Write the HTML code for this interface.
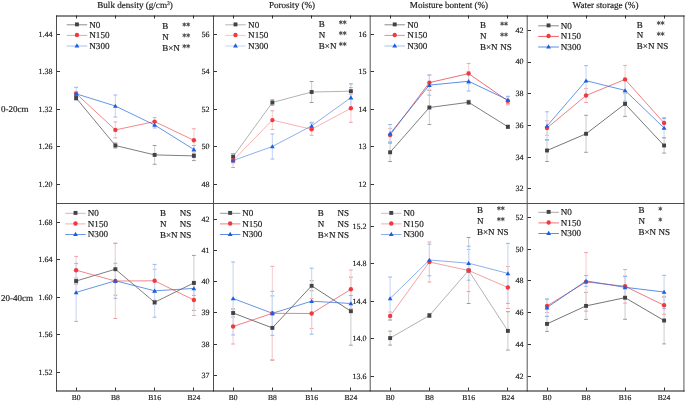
<!DOCTYPE html>
<html><head><meta charset="utf-8"><style>
html,body{margin:0;padding:0;background:#fff;}
body{width:685px;height:401px;overflow:hidden;}
svg{display:block;will-change:transform;}
text{stroke:#222;stroke-width:0.18px;text-rendering:geometricPrecision;}
</style></head><body>
<svg width="685" height="401" viewBox="0 0 685 401" font-family='"Liberation Serif", serif'>
<rect width="685" height="401" fill="#fff"/>
<text x="135.0" y="8.1" font-size="9.1" text-anchor="middle" fill="#222">Bulk density (g/cm<tspan font-size="5.5" dy="-3">3</tspan><tspan dy="3">)</tspan></text>
<text x="292.0" y="8.1" font-size="9.1" text-anchor="middle" fill="#222">Porosity (%)</text>
<text x="449.0" y="8.1" font-size="9.1" text-anchor="middle" fill="#222">Moisture bontent (%)</text>
<text x="605.5" y="8.1" font-size="9.1" text-anchor="middle" fill="#222">Water storage (%)</text>
<text x="1" y="111.8" font-size="9" fill="#222">0-20cm</text>
<text x="1" y="300.8" font-size="9" fill="#222">20-40cm</text>
<line x1="56.5" y1="34.50" x2="60.0" y2="34.50" stroke="#333" stroke-width="1"/>
<text x="52.5" y="36.60" font-size="8" text-anchor="end" fill="#222">1.44</text>
<line x1="56.5" y1="71.50" x2="60.0" y2="71.50" stroke="#333" stroke-width="1"/>
<text x="52.5" y="74.10" font-size="8" text-anchor="end" fill="#222">1.38</text>
<line x1="56.5" y1="109.50" x2="60.0" y2="109.50" stroke="#333" stroke-width="1"/>
<text x="52.5" y="111.60" font-size="8" text-anchor="end" fill="#222">1.32</text>
<line x1="56.5" y1="146.50" x2="60.0" y2="146.50" stroke="#333" stroke-width="1"/>
<text x="52.5" y="149.10" font-size="8" text-anchor="end" fill="#222">1.26</text>
<line x1="56.5" y1="184.50" x2="60.0" y2="184.50" stroke="#333" stroke-width="1"/>
<text x="52.5" y="186.60" font-size="8" text-anchor="end" fill="#222">1.20</text>
<line x1="76.50" y1="15.5" x2="76.50" y2="18.5" stroke="#333" stroke-width="1"/>
<line x1="115.50" y1="15.5" x2="115.50" y2="18.5" stroke="#333" stroke-width="1"/>
<line x1="154.50" y1="15.5" x2="154.50" y2="18.5" stroke="#333" stroke-width="1"/>
<line x1="193.50" y1="15.5" x2="193.50" y2="18.5" stroke="#333" stroke-width="1"/>
<path d="M76.12 96.50V99.50" stroke="#d4d4d4" stroke-width="1.2" fill="none"/>
<path d="M74.22 96.50H78.03M74.22 99.50H78.03" stroke="#9c9c9c" stroke-width="1" fill="none"/>
<path d="M115.38 143.00V148.00" stroke="#d4d4d4" stroke-width="1.2" fill="none"/>
<path d="M113.47 143.00H117.28M113.47 148.00H117.28" stroke="#9c9c9c" stroke-width="1" fill="none"/>
<path d="M154.62 145.50V164.30" stroke="#d4d4d4" stroke-width="1.2" fill="none"/>
<path d="M152.72 145.50H156.53M152.72 164.30H156.53" stroke="#9c9c9c" stroke-width="1" fill="none"/>
<path d="M193.88 151.20V160.60" stroke="#d4d4d4" stroke-width="1.2" fill="none"/>
<path d="M191.97 151.20H195.78M191.97 160.60H195.78" stroke="#9c9c9c" stroke-width="1" fill="none"/>
<path d="M76.12 91.60V95.60" stroke="#f8d4d6" stroke-width="1.2" fill="none"/>
<path d="M74.22 91.60H78.03M74.22 95.60H78.03" stroke="#f0a0a6" stroke-width="1" fill="none"/>
<path d="M115.38 121.90V137.90" stroke="#f8d4d6" stroke-width="1.2" fill="none"/>
<path d="M113.47 121.90H117.28M113.47 137.90H117.28" stroke="#f0a0a6" stroke-width="1" fill="none"/>
<path d="M154.62 117.60V125.60" stroke="#f8d4d6" stroke-width="1.2" fill="none"/>
<path d="M152.72 117.60H156.53M152.72 125.60H156.53" stroke="#f0a0a6" stroke-width="1" fill="none"/>
<path d="M193.88 128.80V151.80" stroke="#f8d4d6" stroke-width="1.2" fill="none"/>
<path d="M191.97 128.80H195.78M191.97 151.80H195.78" stroke="#f0a0a6" stroke-width="1" fill="none"/>
<path d="M76.12 87.30V100.30" stroke="#ccdcf4" stroke-width="1.2" fill="none"/>
<path d="M74.22 87.30H78.03M74.22 100.30H78.03" stroke="#94b6ea" stroke-width="1" fill="none"/>
<path d="M115.38 95.00V117.00" stroke="#ccdcf4" stroke-width="1.2" fill="none"/>
<path d="M113.47 95.00H117.28M113.47 117.00H117.28" stroke="#94b6ea" stroke-width="1" fill="none"/>
<path d="M154.62 122.00V128.00" stroke="#ccdcf4" stroke-width="1.2" fill="none"/>
<path d="M152.72 122.00H156.53M152.72 128.00H156.53" stroke="#94b6ea" stroke-width="1" fill="none"/>
<path d="M193.88 145.50V153.50" stroke="#ccdcf4" stroke-width="1.2" fill="none"/>
<path d="M191.97 145.50H195.78M191.97 153.50H195.78" stroke="#94b6ea" stroke-width="1" fill="none"/>
<path d="M76.12 98.00L115.38 145.50L154.62 154.90L193.88 155.90" stroke="#404040" stroke-opacity="0.75" stroke-width="0.9" fill="none"/>
<path d="M76.12 93.60L115.38 129.90L154.62 121.60L193.88 140.30" stroke="#e94048" stroke-opacity="0.7" stroke-width="0.9" fill="none"/>
<path d="M76.12 93.80L115.38 106.00L154.62 125.00L193.88 149.50" stroke="#2a6cdc" stroke-opacity="0.8" stroke-width="0.9" fill="none"/>
<rect x="74.17" y="96.05" width="3.9" height="3.9" fill="#434343"/>
<rect x="113.42" y="143.55" width="3.9" height="3.9" fill="#434343"/>
<rect x="152.68" y="152.95" width="3.9" height="3.9" fill="#434343"/>
<rect x="191.93" y="153.95" width="3.9" height="3.9" fill="#434343"/>
<circle cx="76.12" cy="93.60" r="2.2" fill="#ef3a40"/>
<circle cx="115.38" cy="129.90" r="2.2" fill="#ef3a40"/>
<circle cx="154.62" cy="121.60" r="2.2" fill="#ef3a40"/>
<circle cx="193.88" cy="140.30" r="2.2" fill="#ef3a40"/>
<path d="M76.12 91.55L78.53 95.64L73.72 95.64Z" fill="#1c5ee0"/>
<path d="M115.38 103.75L117.78 107.84L112.97 107.84Z" fill="#1c5ee0"/>
<path d="M154.62 122.75L157.03 126.84L152.22 126.84Z" fill="#1c5ee0"/>
<path d="M193.88 147.25L196.28 151.34L191.47 151.34Z" fill="#1c5ee0"/>
<line x1="66.7" y1="24.80" x2="87.2" y2="24.80" stroke="#8c8c8c" stroke-width="1"/>
<rect x="75.00" y="22.45" width="3.9" height="3.9" fill="#434343"/>
<text x="89.3" y="27.60" font-size="9.1" fill="#222">N0</text>
<line x1="66.7" y1="35.40" x2="87.2" y2="35.40" stroke="#f2a0a6" stroke-width="1"/>
<circle cx="76.95" cy="35.00" r="2.2" fill="#ef3a40"/>
<text x="89.3" y="38.20" font-size="9.1" fill="#222">N150</text>
<line x1="66.7" y1="46.00" x2="87.2" y2="46.00" stroke="#a6c2ee" stroke-width="1"/>
<path d="M76.95 43.34L79.35 47.44L74.55 47.44Z" fill="#1c5ee0"/>
<text x="89.3" y="48.80" font-size="9.1" fill="#222">N300</text>
<text x="162.2" y="29.00" font-size="9" fill="#222">B</text>
<circle cx="184.30" cy="24.50" r="1.15" fill="#444"/><path d="M184.30 24.50l0.00 1.75M184.30 24.50l-1.52 0.88M184.30 24.50l-1.52 -0.87M184.30 24.50l-0.00 -1.75M184.30 24.50l1.52 -0.88M184.30 24.50l1.52 0.88" stroke="#555" stroke-width="0.9" stroke-linecap="round"/>
<circle cx="188.20" cy="24.50" r="1.15" fill="#444"/><path d="M188.20 24.50l0.00 1.75M188.20 24.50l-1.52 0.88M188.20 24.50l-1.52 -0.87M188.20 24.50l-0.00 -1.75M188.20 24.50l1.52 -0.88M188.20 24.50l1.52 0.88" stroke="#555" stroke-width="0.9" stroke-linecap="round"/>
<text x="162.2" y="39.85" font-size="9" fill="#222">N</text>
<circle cx="184.30" cy="35.35" r="1.15" fill="#444"/><path d="M184.30 35.35l0.00 1.75M184.30 35.35l-1.52 0.88M184.30 35.35l-1.52 -0.87M184.30 35.35l-0.00 -1.75M184.30 35.35l1.52 -0.88M184.30 35.35l1.52 0.88" stroke="#555" stroke-width="0.9" stroke-linecap="round"/>
<circle cx="188.20" cy="35.35" r="1.15" fill="#444"/><path d="M188.20 35.35l0.00 1.75M188.20 35.35l-1.52 0.88M188.20 35.35l-1.52 -0.87M188.20 35.35l-0.00 -1.75M188.20 35.35l1.52 -0.88M188.20 35.35l1.52 0.88" stroke="#555" stroke-width="0.9" stroke-linecap="round"/>
<text x="162.2" y="50.70" font-size="9" fill="#222">B×N</text>
<circle cx="184.30" cy="46.20" r="1.15" fill="#444"/><path d="M184.30 46.20l0.00 1.75M184.30 46.20l-1.52 0.88M184.30 46.20l-1.52 -0.87M184.30 46.20l-0.00 -1.75M184.30 46.20l1.52 -0.88M184.30 46.20l1.52 0.88" stroke="#555" stroke-width="0.9" stroke-linecap="round"/>
<circle cx="188.20" cy="46.20" r="1.15" fill="#444"/><path d="M188.20 46.20l0.00 1.75M188.20 46.20l-1.52 0.88M188.20 46.20l-1.52 -0.87M188.20 46.20l-0.00 -1.75M188.20 46.20l1.52 -0.88M188.20 46.20l1.52 0.88" stroke="#555" stroke-width="0.9" stroke-linecap="round"/>
<line x1="213.5" y1="34.50" x2="217.0" y2="34.50" stroke="#333" stroke-width="1"/>
<text x="209.5" y="36.60" font-size="8" text-anchor="end" fill="#222">56</text>
<line x1="213.5" y1="71.50" x2="217.0" y2="71.50" stroke="#333" stroke-width="1"/>
<text x="209.5" y="74.10" font-size="8" text-anchor="end" fill="#222">54</text>
<line x1="213.5" y1="109.50" x2="217.0" y2="109.50" stroke="#333" stroke-width="1"/>
<text x="209.5" y="111.60" font-size="8" text-anchor="end" fill="#222">52</text>
<line x1="213.5" y1="146.50" x2="217.0" y2="146.50" stroke="#333" stroke-width="1"/>
<text x="209.5" y="149.10" font-size="8" text-anchor="end" fill="#222">50</text>
<line x1="213.5" y1="184.50" x2="217.0" y2="184.50" stroke="#333" stroke-width="1"/>
<text x="209.5" y="186.60" font-size="8" text-anchor="end" fill="#222">48</text>
<line x1="233.50" y1="15.5" x2="233.50" y2="18.5" stroke="#333" stroke-width="1"/>
<line x1="272.50" y1="15.5" x2="272.50" y2="18.5" stroke="#333" stroke-width="1"/>
<line x1="311.50" y1="15.5" x2="311.50" y2="18.5" stroke="#333" stroke-width="1"/>
<line x1="350.50" y1="15.5" x2="350.50" y2="18.5" stroke="#333" stroke-width="1"/>
<path d="M233.12 153.70V159.70" stroke="#d4d4d4" stroke-width="1.2" fill="none"/>
<path d="M231.22 153.70H235.03M231.22 159.70H235.03" stroke="#9c9c9c" stroke-width="1" fill="none"/>
<path d="M272.38 99.80V105.20" stroke="#d4d4d4" stroke-width="1.2" fill="none"/>
<path d="M270.48 99.80H274.27M270.48 105.20H274.27" stroke="#9c9c9c" stroke-width="1" fill="none"/>
<path d="M311.62 81.50V102.50" stroke="#d4d4d4" stroke-width="1.2" fill="none"/>
<path d="M309.73 81.50H313.52M309.73 102.50H313.52" stroke="#9c9c9c" stroke-width="1" fill="none"/>
<path d="M350.88 83.90V98.50" stroke="#d4d4d4" stroke-width="1.2" fill="none"/>
<path d="M348.98 83.90H352.77M348.98 98.50H352.77" stroke="#9c9c9c" stroke-width="1" fill="none"/>
<path d="M233.12 158.00V163.00" stroke="#f8d4d6" stroke-width="1.2" fill="none"/>
<path d="M231.22 158.00H235.03M231.22 163.00H235.03" stroke="#f0a0a6" stroke-width="1" fill="none"/>
<path d="M272.38 110.80V129.40" stroke="#f8d4d6" stroke-width="1.2" fill="none"/>
<path d="M270.48 110.80H274.27M270.48 129.40H274.27" stroke="#f0a0a6" stroke-width="1" fill="none"/>
<path d="M311.62 123.30V135.30" stroke="#f8d4d6" stroke-width="1.2" fill="none"/>
<path d="M309.73 123.30H313.52M309.73 135.30H313.52" stroke="#f0a0a6" stroke-width="1" fill="none"/>
<path d="M350.88 94.30V122.30" stroke="#f8d4d6" stroke-width="1.2" fill="none"/>
<path d="M348.98 94.30H352.77M348.98 122.30H352.77" stroke="#f0a0a6" stroke-width="1" fill="none"/>
<path d="M233.12 153.50V167.50" stroke="#ccdcf4" stroke-width="1.2" fill="none"/>
<path d="M231.22 153.50H235.03M231.22 167.50H235.03" stroke="#94b6ea" stroke-width="1" fill="none"/>
<path d="M272.38 134.00V159.00" stroke="#ccdcf4" stroke-width="1.2" fill="none"/>
<path d="M270.48 134.00H274.27M270.48 159.00H274.27" stroke="#94b6ea" stroke-width="1" fill="none"/>
<path d="M311.62 122.30V129.50" stroke="#ccdcf4" stroke-width="1.2" fill="none"/>
<path d="M309.73 122.30H313.52M309.73 129.50H313.52" stroke="#94b6ea" stroke-width="1" fill="none"/>
<path d="M350.88 87.60V107.60" stroke="#ccdcf4" stroke-width="1.2" fill="none"/>
<path d="M348.98 87.60H352.77M348.98 107.60H352.77" stroke="#94b6ea" stroke-width="1" fill="none"/>
<path d="M233.12 156.70L272.38 102.50L311.62 92.00L350.88 91.20" stroke="#404040" stroke-opacity="0.45" stroke-width="0.9" fill="none"/>
<path d="M233.12 160.50L272.38 120.10L311.62 129.30L350.88 108.30" stroke="#e94048" stroke-opacity="0.45" stroke-width="0.9" fill="none"/>
<path d="M233.12 160.50L272.38 146.50L311.62 125.90L350.88 97.60" stroke="#2a6cdc" stroke-opacity="0.6" stroke-width="0.9" fill="none"/>
<rect x="231.18" y="154.75" width="3.9" height="3.9" fill="#434343"/>
<rect x="270.43" y="100.55" width="3.9" height="3.9" fill="#434343"/>
<rect x="309.68" y="90.05" width="3.9" height="3.9" fill="#434343"/>
<rect x="348.93" y="89.25" width="3.9" height="3.9" fill="#434343"/>
<circle cx="233.12" cy="160.50" r="2.2" fill="#ef3a40"/>
<circle cx="272.38" cy="120.10" r="2.2" fill="#ef3a40"/>
<circle cx="311.62" cy="129.30" r="2.2" fill="#ef3a40"/>
<circle cx="350.88" cy="108.30" r="2.2" fill="#ef3a40"/>
<path d="M233.12 158.25L235.53 162.34L230.72 162.34Z" fill="#1c5ee0"/>
<path d="M272.38 144.25L274.77 148.34L269.98 148.34Z" fill="#1c5ee0"/>
<path d="M311.62 123.65L314.02 127.75L309.23 127.75Z" fill="#1c5ee0"/>
<path d="M350.88 95.34L353.27 99.44L348.48 99.44Z" fill="#1c5ee0"/>
<line x1="225.3" y1="24.80" x2="245.7" y2="24.80" stroke="#b4b4b4" stroke-width="1"/>
<rect x="233.55" y="22.45" width="3.9" height="3.9" fill="#434343"/>
<text x="248.1" y="27.60" font-size="9.1" fill="#222">N0</text>
<line x1="225.3" y1="35.40" x2="245.7" y2="35.40" stroke="#f6c4c8" stroke-width="1"/>
<circle cx="235.50" cy="35.00" r="2.2" fill="#ef3a40"/>
<text x="248.1" y="38.20" font-size="9.1" fill="#222">N150</text>
<line x1="225.3" y1="46.00" x2="245.7" y2="46.00" stroke="#c4d6f2" stroke-width="1"/>
<path d="M235.50 43.34L237.90 47.44L233.10 47.44Z" fill="#1c5ee0"/>
<text x="248.1" y="48.80" font-size="9.1" fill="#222">N300</text>
<text x="318.8" y="26.80" font-size="9" fill="#222">B</text>
<circle cx="340.80" cy="22.30" r="1.15" fill="#444"/><path d="M340.80 22.30l0.00 1.75M340.80 22.30l-1.52 0.88M340.80 22.30l-1.52 -0.87M340.80 22.30l-0.00 -1.75M340.80 22.30l1.52 -0.88M340.80 22.30l1.52 0.88" stroke="#555" stroke-width="0.9" stroke-linecap="round"/>
<circle cx="344.70" cy="22.30" r="1.15" fill="#444"/><path d="M344.70 22.30l0.00 1.75M344.70 22.30l-1.52 0.88M344.70 22.30l-1.52 -0.87M344.70 22.30l-0.00 -1.75M344.70 22.30l1.52 -0.88M344.70 22.30l1.52 0.88" stroke="#555" stroke-width="0.9" stroke-linecap="round"/>
<text x="318.8" y="37.65" font-size="9" fill="#222">N</text>
<circle cx="340.80" cy="33.15" r="1.15" fill="#444"/><path d="M340.80 33.15l0.00 1.75M340.80 33.15l-1.52 0.88M340.80 33.15l-1.52 -0.87M340.80 33.15l-0.00 -1.75M340.80 33.15l1.52 -0.88M340.80 33.15l1.52 0.88" stroke="#555" stroke-width="0.9" stroke-linecap="round"/>
<circle cx="344.70" cy="33.15" r="1.15" fill="#444"/><path d="M344.70 33.15l0.00 1.75M344.70 33.15l-1.52 0.88M344.70 33.15l-1.52 -0.87M344.70 33.15l-0.00 -1.75M344.70 33.15l1.52 -0.88M344.70 33.15l1.52 0.88" stroke="#555" stroke-width="0.9" stroke-linecap="round"/>
<text x="318.8" y="48.50" font-size="9" fill="#222">B×N</text>
<circle cx="340.80" cy="44.00" r="1.15" fill="#444"/><path d="M340.80 44.00l0.00 1.75M340.80 44.00l-1.52 0.88M340.80 44.00l-1.52 -0.87M340.80 44.00l-0.00 -1.75M340.80 44.00l1.52 -0.88M340.80 44.00l1.52 0.88" stroke="#555" stroke-width="0.9" stroke-linecap="round"/>
<circle cx="344.70" cy="44.00" r="1.15" fill="#444"/><path d="M344.70 44.00l0.00 1.75M344.70 44.00l-1.52 0.88M344.70 44.00l-1.52 -0.87M344.70 44.00l-0.00 -1.75M344.70 44.00l1.52 -0.88M344.70 44.00l1.52 0.88" stroke="#555" stroke-width="0.9" stroke-linecap="round"/>
<line x1="370.5" y1="34.50" x2="374.0" y2="34.50" stroke="#333" stroke-width="1"/>
<text x="366.5" y="36.60" font-size="8" text-anchor="end" fill="#222">16</text>
<line x1="370.5" y1="71.50" x2="374.0" y2="71.50" stroke="#333" stroke-width="1"/>
<text x="366.5" y="74.10" font-size="8" text-anchor="end" fill="#222">15</text>
<line x1="370.5" y1="109.50" x2="374.0" y2="109.50" stroke="#333" stroke-width="1"/>
<text x="366.5" y="111.60" font-size="8" text-anchor="end" fill="#222">14</text>
<line x1="370.5" y1="146.50" x2="374.0" y2="146.50" stroke="#333" stroke-width="1"/>
<text x="366.5" y="149.10" font-size="8" text-anchor="end" fill="#222">13</text>
<line x1="370.5" y1="184.50" x2="374.0" y2="184.50" stroke="#333" stroke-width="1"/>
<text x="366.5" y="186.60" font-size="8" text-anchor="end" fill="#222">12</text>
<line x1="390.50" y1="15.5" x2="390.50" y2="18.5" stroke="#333" stroke-width="1"/>
<line x1="429.50" y1="15.5" x2="429.50" y2="18.5" stroke="#333" stroke-width="1"/>
<line x1="468.50" y1="15.5" x2="468.50" y2="18.5" stroke="#333" stroke-width="1"/>
<line x1="507.50" y1="15.5" x2="507.50" y2="18.5" stroke="#333" stroke-width="1"/>
<path d="M390.12 143.10V161.50" stroke="#d4d4d4" stroke-width="1.2" fill="none"/>
<path d="M388.23 143.10H392.02M388.23 161.50H392.02" stroke="#9c9c9c" stroke-width="1" fill="none"/>
<path d="M429.38 90.50V124.50" stroke="#d4d4d4" stroke-width="1.2" fill="none"/>
<path d="M427.48 90.50H431.27M427.48 124.50H431.27" stroke="#9c9c9c" stroke-width="1" fill="none"/>
<path d="M468.62 100.30V104.30" stroke="#d4d4d4" stroke-width="1.2" fill="none"/>
<path d="M466.73 100.30H470.52M466.73 104.30H470.52" stroke="#9c9c9c" stroke-width="1" fill="none"/>
<path d="M507.88 125.30V128.30" stroke="#d4d4d4" stroke-width="1.2" fill="none"/>
<path d="M505.98 125.30H509.77M505.98 128.30H509.77" stroke="#9c9c9c" stroke-width="1" fill="none"/>
<path d="M390.12 128.40V141.60" stroke="#f8d4d6" stroke-width="1.2" fill="none"/>
<path d="M388.23 128.40H392.02M388.23 141.60H392.02" stroke="#f0a0a6" stroke-width="1" fill="none"/>
<path d="M429.38 75.10V90.10" stroke="#f8d4d6" stroke-width="1.2" fill="none"/>
<path d="M427.48 75.10H431.27M427.48 90.10H431.27" stroke="#f0a0a6" stroke-width="1" fill="none"/>
<path d="M468.62 63.40V83.80" stroke="#f8d4d6" stroke-width="1.2" fill="none"/>
<path d="M466.73 63.40H470.52M466.73 83.80H470.52" stroke="#f0a0a6" stroke-width="1" fill="none"/>
<path d="M507.88 96.90V104.90" stroke="#f8d4d6" stroke-width="1.2" fill="none"/>
<path d="M505.98 96.90H509.77M505.98 104.90H509.77" stroke="#f0a0a6" stroke-width="1" fill="none"/>
<path d="M390.12 124.50V142.70" stroke="#ccdcf4" stroke-width="1.2" fill="none"/>
<path d="M388.23 124.50H392.02M388.23 142.70H392.02" stroke="#94b6ea" stroke-width="1" fill="none"/>
<path d="M429.38 75.00V95.20" stroke="#ccdcf4" stroke-width="1.2" fill="none"/>
<path d="M427.48 75.00H431.27M427.48 95.20H431.27" stroke="#94b6ea" stroke-width="1" fill="none"/>
<path d="M468.62 71.60V91.00" stroke="#ccdcf4" stroke-width="1.2" fill="none"/>
<path d="M466.73 71.60H470.52M466.73 91.00H470.52" stroke="#94b6ea" stroke-width="1" fill="none"/>
<path d="M507.88 96.30V103.50" stroke="#ccdcf4" stroke-width="1.2" fill="none"/>
<path d="M505.98 96.30H509.77M505.98 103.50H509.77" stroke="#94b6ea" stroke-width="1" fill="none"/>
<path d="M390.12 152.30L429.38 107.50L468.62 102.30L507.88 126.80" stroke="#404040" stroke-opacity="0.75" stroke-width="0.9" fill="none"/>
<path d="M390.12 135.00L429.38 82.60L468.62 73.60L507.88 100.90" stroke="#e94048" stroke-opacity="0.85" stroke-width="0.9" fill="none"/>
<path d="M390.12 133.60L429.38 85.10L468.62 81.30L507.88 99.90" stroke="#2a6cdc" stroke-opacity="0.85" stroke-width="0.9" fill="none"/>
<rect x="388.18" y="150.35" width="3.9" height="3.9" fill="#434343"/>
<rect x="427.43" y="105.55" width="3.9" height="3.9" fill="#434343"/>
<rect x="466.68" y="100.35" width="3.9" height="3.9" fill="#434343"/>
<rect x="505.93" y="124.85" width="3.9" height="3.9" fill="#434343"/>
<circle cx="390.12" cy="135.00" r="2.2" fill="#ef3a40"/>
<circle cx="429.38" cy="82.60" r="2.2" fill="#ef3a40"/>
<circle cx="468.62" cy="73.60" r="2.2" fill="#ef3a40"/>
<circle cx="507.88" cy="100.90" r="2.2" fill="#ef3a40"/>
<path d="M390.12 131.34L392.52 135.44L387.73 135.44Z" fill="#1c5ee0"/>
<path d="M429.38 82.84L431.77 86.94L426.98 86.94Z" fill="#1c5ee0"/>
<path d="M468.62 79.05L471.02 83.14L466.23 83.14Z" fill="#1c5ee0"/>
<path d="M507.88 97.65L510.27 101.75L505.48 101.75Z" fill="#1c5ee0"/>
<line x1="384.5" y1="24.80" x2="404.9" y2="24.80" stroke="#8a8a8a" stroke-width="1"/>
<rect x="392.75" y="22.45" width="3.9" height="3.9" fill="#434343"/>
<text x="407.2" y="27.60" font-size="9.1" fill="#222">N0</text>
<line x1="384.5" y1="35.40" x2="404.9" y2="35.40" stroke="#f0888e" stroke-width="1"/>
<circle cx="394.70" cy="35.00" r="2.2" fill="#ef3a40"/>
<text x="407.2" y="38.20" font-size="9.1" fill="#222">N150</text>
<line x1="384.5" y1="46.00" x2="404.9" y2="46.00" stroke="#a4c0f0" stroke-width="1"/>
<path d="M394.70 43.34L397.10 47.44L392.30 47.44Z" fill="#1c5ee0"/>
<text x="407.2" y="48.80" font-size="9.1" fill="#222">N300</text>
<text x="480.0" y="28.20" font-size="9" fill="#222">B</text>
<circle cx="502.10" cy="23.70" r="1.15" fill="#444"/><path d="M502.10 23.70l0.00 1.75M502.10 23.70l-1.52 0.88M502.10 23.70l-1.52 -0.87M502.10 23.70l-0.00 -1.75M502.10 23.70l1.52 -0.88M502.10 23.70l1.52 0.88" stroke="#555" stroke-width="0.9" stroke-linecap="round"/>
<circle cx="506.00" cy="23.70" r="1.15" fill="#444"/><path d="M506.00 23.70l0.00 1.75M506.00 23.70l-1.52 0.88M506.00 23.70l-1.52 -0.87M506.00 23.70l-0.00 -1.75M506.00 23.70l1.52 -0.88M506.00 23.70l1.52 0.88" stroke="#555" stroke-width="0.9" stroke-linecap="round"/>
<text x="480.0" y="39.05" font-size="9" fill="#222">N</text>
<circle cx="502.10" cy="34.55" r="1.15" fill="#444"/><path d="M502.10 34.55l0.00 1.75M502.10 34.55l-1.52 0.88M502.10 34.55l-1.52 -0.87M502.10 34.55l-0.00 -1.75M502.10 34.55l1.52 -0.88M502.10 34.55l1.52 0.88" stroke="#555" stroke-width="0.9" stroke-linecap="round"/>
<circle cx="506.00" cy="34.55" r="1.15" fill="#444"/><path d="M506.00 34.55l0.00 1.75M506.00 34.55l-1.52 0.88M506.00 34.55l-1.52 -0.87M506.00 34.55l-0.00 -1.75M506.00 34.55l1.52 -0.88M506.00 34.55l1.52 0.88" stroke="#555" stroke-width="0.9" stroke-linecap="round"/>
<text x="480.0" y="49.90" font-size="9" fill="#222">B×N</text>
<text x="500.2" y="49.90" font-size="9" fill="#222">NS</text>
<line x1="527.5" y1="30.50" x2="531.0" y2="30.50" stroke="#333" stroke-width="1"/>
<text x="523.5" y="32.70" font-size="8" text-anchor="end" fill="#222">42</text>
<line x1="527.5" y1="62.50" x2="531.0" y2="62.50" stroke="#333" stroke-width="1"/>
<text x="523.5" y="64.40" font-size="8" text-anchor="end" fill="#222">40</text>
<line x1="527.5" y1="93.50" x2="531.0" y2="93.50" stroke="#333" stroke-width="1"/>
<text x="523.5" y="96.10" font-size="8" text-anchor="end" fill="#222">38</text>
<line x1="527.5" y1="125.50" x2="531.0" y2="125.50" stroke="#333" stroke-width="1"/>
<text x="523.5" y="127.80" font-size="8" text-anchor="end" fill="#222">36</text>
<line x1="527.5" y1="157.50" x2="531.0" y2="157.50" stroke="#333" stroke-width="1"/>
<text x="523.5" y="159.50" font-size="8" text-anchor="end" fill="#222">34</text>
<line x1="527.5" y1="188.50" x2="531.0" y2="188.50" stroke="#333" stroke-width="1"/>
<text x="523.5" y="191.20" font-size="8" text-anchor="end" fill="#222">32</text>
<line x1="547.50" y1="15.5" x2="547.50" y2="18.5" stroke="#333" stroke-width="1"/>
<line x1="586.50" y1="15.5" x2="586.50" y2="18.5" stroke="#333" stroke-width="1"/>
<line x1="625.50" y1="15.5" x2="625.50" y2="18.5" stroke="#333" stroke-width="1"/>
<line x1="664.50" y1="15.5" x2="664.50" y2="18.5" stroke="#333" stroke-width="1"/>
<path d="M547.01 139.50V161.50" stroke="#d4d4d4" stroke-width="1.2" fill="none"/>
<path d="M545.11 139.50H548.91M545.11 161.50H548.91" stroke="#9c9c9c" stroke-width="1" fill="none"/>
<path d="M586.04 115.30V152.30" stroke="#d4d4d4" stroke-width="1.2" fill="none"/>
<path d="M584.14 115.30H587.94M584.14 152.30H587.94" stroke="#9c9c9c" stroke-width="1" fill="none"/>
<path d="M625.06 91.40V116.40" stroke="#d4d4d4" stroke-width="1.2" fill="none"/>
<path d="M623.16 91.40H626.96M623.16 116.40H626.96" stroke="#9c9c9c" stroke-width="1" fill="none"/>
<path d="M664.09 137.90V153.10" stroke="#d4d4d4" stroke-width="1.2" fill="none"/>
<path d="M662.19 137.90H665.99M662.19 153.10H665.99" stroke="#9c9c9c" stroke-width="1" fill="none"/>
<path d="M547.01 120.70V135.30" stroke="#f8d4d6" stroke-width="1.2" fill="none"/>
<path d="M545.11 120.70H548.91M545.11 135.30H548.91" stroke="#f0a0a6" stroke-width="1" fill="none"/>
<path d="M586.04 88.50V102.50" stroke="#f8d4d6" stroke-width="1.2" fill="none"/>
<path d="M584.14 88.50H587.94M584.14 102.50H587.94" stroke="#f0a0a6" stroke-width="1" fill="none"/>
<path d="M625.06 65.40V93.40" stroke="#f8d4d6" stroke-width="1.2" fill="none"/>
<path d="M623.16 65.40H626.96M623.16 93.40H626.96" stroke="#f0a0a6" stroke-width="1" fill="none"/>
<path d="M664.09 117.60V128.40" stroke="#f8d4d6" stroke-width="1.2" fill="none"/>
<path d="M662.19 117.60H665.99M662.19 128.40H665.99" stroke="#f0a0a6" stroke-width="1" fill="none"/>
<path d="M547.01 111.80V140.20" stroke="#ccdcf4" stroke-width="1.2" fill="none"/>
<path d="M545.11 111.80H548.91M545.11 140.20H548.91" stroke="#94b6ea" stroke-width="1" fill="none"/>
<path d="M586.04 65.70V95.70" stroke="#ccdcf4" stroke-width="1.2" fill="none"/>
<path d="M584.14 65.70H587.94M584.14 95.70H587.94" stroke="#94b6ea" stroke-width="1" fill="none"/>
<path d="M625.06 79.60V101.20" stroke="#ccdcf4" stroke-width="1.2" fill="none"/>
<path d="M623.16 79.60H626.96M623.16 101.20H626.96" stroke="#94b6ea" stroke-width="1" fill="none"/>
<path d="M664.09 118.50V137.50" stroke="#ccdcf4" stroke-width="1.2" fill="none"/>
<path d="M662.19 118.50H665.99M662.19 137.50H665.99" stroke="#94b6ea" stroke-width="1" fill="none"/>
<path d="M547.01 150.50L586.04 133.80L625.06 103.90L664.09 145.50" stroke="#404040" stroke-opacity="0.8" stroke-width="0.9" fill="none"/>
<path d="M547.01 128.00L586.04 95.50L625.06 79.40L664.09 123.00" stroke="#e94048" stroke-opacity="0.75" stroke-width="0.9" fill="none"/>
<path d="M547.01 126.00L586.04 80.70L625.06 90.40L664.09 128.00" stroke="#2a6cdc" stroke-opacity="0.8" stroke-width="0.9" fill="none"/>
<rect x="545.06" y="148.55" width="3.9" height="3.9" fill="#434343"/>
<rect x="584.09" y="131.85" width="3.9" height="3.9" fill="#434343"/>
<rect x="623.11" y="101.95" width="3.9" height="3.9" fill="#434343"/>
<rect x="662.14" y="143.55" width="3.9" height="3.9" fill="#434343"/>
<circle cx="547.01" cy="128.00" r="2.2" fill="#ef3a40"/>
<circle cx="586.04" cy="95.50" r="2.2" fill="#ef3a40"/>
<circle cx="625.06" cy="79.40" r="2.2" fill="#ef3a40"/>
<circle cx="664.09" cy="123.00" r="2.2" fill="#ef3a40"/>
<path d="M547.01 123.75L549.41 127.84L544.61 127.84Z" fill="#1c5ee0"/>
<path d="M586.04 78.45L588.44 82.55L583.64 82.55Z" fill="#1c5ee0"/>
<path d="M625.06 88.15L627.46 92.25L622.66 92.25Z" fill="#1c5ee0"/>
<path d="M664.09 125.75L666.49 129.84L661.69 129.84Z" fill="#1c5ee0"/>
<line x1="538.2" y1="25.80" x2="558.9" y2="25.80" stroke="#8a8a8a" stroke-width="1"/>
<rect x="546.60" y="23.45" width="3.9" height="3.9" fill="#434343"/>
<text x="560.8" y="28.60" font-size="9.1" fill="#222">N0</text>
<line x1="538.2" y1="36.40" x2="558.9" y2="36.40" stroke="#ee6068" stroke-width="1"/>
<circle cx="548.55" cy="36.00" r="2.2" fill="#ef3a40"/>
<text x="560.8" y="39.20" font-size="9.1" fill="#222">N150</text>
<line x1="538.2" y1="47.00" x2="558.9" y2="47.00" stroke="#5a8ee2" stroke-width="1"/>
<path d="M548.55 44.34L550.95 48.44L546.15 48.44Z" fill="#1c5ee0"/>
<text x="560.8" y="49.80" font-size="9.1" fill="#222">N300</text>
<text x="636.8" y="27.50" font-size="9" fill="#222">B</text>
<circle cx="658.70" cy="23.00" r="1.15" fill="#444"/><path d="M658.70 23.00l0.00 1.75M658.70 23.00l-1.52 0.88M658.70 23.00l-1.52 -0.87M658.70 23.00l-0.00 -1.75M658.70 23.00l1.52 -0.88M658.70 23.00l1.52 0.88" stroke="#555" stroke-width="0.9" stroke-linecap="round"/>
<circle cx="662.60" cy="23.00" r="1.15" fill="#444"/><path d="M662.60 23.00l0.00 1.75M662.60 23.00l-1.52 0.88M662.60 23.00l-1.52 -0.87M662.60 23.00l-0.00 -1.75M662.60 23.00l1.52 -0.88M662.60 23.00l1.52 0.88" stroke="#555" stroke-width="0.9" stroke-linecap="round"/>
<text x="636.8" y="38.35" font-size="9" fill="#222">N</text>
<circle cx="658.70" cy="33.85" r="1.15" fill="#444"/><path d="M658.70 33.85l0.00 1.75M658.70 33.85l-1.52 0.88M658.70 33.85l-1.52 -0.87M658.70 33.85l-0.00 -1.75M658.70 33.85l1.52 -0.88M658.70 33.85l1.52 0.88" stroke="#555" stroke-width="0.9" stroke-linecap="round"/>
<circle cx="662.60" cy="33.85" r="1.15" fill="#444"/><path d="M662.60 33.85l0.00 1.75M662.60 33.85l-1.52 0.88M662.60 33.85l-1.52 -0.87M662.60 33.85l-0.00 -1.75M662.60 33.85l1.52 -0.88M662.60 33.85l1.52 0.88" stroke="#555" stroke-width="0.9" stroke-linecap="round"/>
<text x="636.8" y="49.20" font-size="9" fill="#222">B×N</text>
<text x="656.8" y="49.20" font-size="9" fill="#222">NS</text>
<line x1="56.5" y1="222.50" x2="60.0" y2="222.50" stroke="#333" stroke-width="1"/>
<text x="52.5" y="224.50" font-size="8" text-anchor="end" fill="#222">1.68</text>
<line x1="56.5" y1="259.50" x2="60.0" y2="259.50" stroke="#333" stroke-width="1"/>
<text x="52.5" y="262.00" font-size="8" text-anchor="end" fill="#222">1.64</text>
<line x1="56.5" y1="297.50" x2="60.0" y2="297.50" stroke="#333" stroke-width="1"/>
<text x="52.5" y="299.50" font-size="8" text-anchor="end" fill="#222">1.60</text>
<line x1="56.5" y1="334.50" x2="60.0" y2="334.50" stroke="#333" stroke-width="1"/>
<text x="52.5" y="337.00" font-size="8" text-anchor="end" fill="#222">1.56</text>
<line x1="56.5" y1="372.50" x2="60.0" y2="372.50" stroke="#333" stroke-width="1"/>
<text x="52.5" y="374.50" font-size="8" text-anchor="end" fill="#222">1.52</text>
<line x1="76.50" y1="390.5" x2="76.50" y2="387.5" stroke="#333" stroke-width="1"/>
<text x="76.12" y="399.6" font-size="7.6" text-anchor="middle" fill="#222">B0</text>
<line x1="115.50" y1="390.5" x2="115.50" y2="387.5" stroke="#333" stroke-width="1"/>
<text x="115.38" y="399.6" font-size="7.6" text-anchor="middle" fill="#222">B8</text>
<line x1="154.50" y1="390.5" x2="154.50" y2="387.5" stroke="#333" stroke-width="1"/>
<text x="154.62" y="399.6" font-size="7.6" text-anchor="middle" fill="#222">B16</text>
<line x1="193.50" y1="390.5" x2="193.50" y2="387.5" stroke="#333" stroke-width="1"/>
<text x="193.88" y="399.6" font-size="7.6" text-anchor="middle" fill="#222">B24</text>
<path d="M76.12 278.00V284.00" stroke="#d4d4d4" stroke-width="1.2" fill="none"/>
<path d="M74.22 278.00H78.03M74.22 284.00H78.03" stroke="#9c9c9c" stroke-width="1" fill="none"/>
<path d="M115.38 243.20V295.20" stroke="#d4d4d4" stroke-width="1.2" fill="none"/>
<path d="M113.47 243.20H117.28M113.47 295.20H117.28" stroke="#9c9c9c" stroke-width="1" fill="none"/>
<path d="M154.62 300.30V304.30" stroke="#d4d4d4" stroke-width="1.2" fill="none"/>
<path d="M152.72 300.30H156.53M152.72 304.30H156.53" stroke="#9c9c9c" stroke-width="1" fill="none"/>
<path d="M193.88 255.40V310.40" stroke="#d4d4d4" stroke-width="1.2" fill="none"/>
<path d="M191.97 255.40H195.78M191.97 310.40H195.78" stroke="#9c9c9c" stroke-width="1" fill="none"/>
<path d="M76.12 256.40V284.00" stroke="#f8d4d6" stroke-width="1.2" fill="none"/>
<path d="M74.22 256.40H78.03M74.22 284.00H78.03" stroke="#f0a0a6" stroke-width="1" fill="none"/>
<path d="M115.38 243.50V318.50" stroke="#f8d4d6" stroke-width="1.2" fill="none"/>
<path d="M113.47 243.50H117.28M113.47 318.50H117.28" stroke="#f0a0a6" stroke-width="1" fill="none"/>
<path d="M154.62 269.30V292.30" stroke="#f8d4d6" stroke-width="1.2" fill="none"/>
<path d="M152.72 269.30H156.53M152.72 292.30H156.53" stroke="#f0a0a6" stroke-width="1" fill="none"/>
<path d="M193.88 284.50V315.50" stroke="#f8d4d6" stroke-width="1.2" fill="none"/>
<path d="M191.97 284.50H195.78M191.97 315.50H195.78" stroke="#f0a0a6" stroke-width="1" fill="none"/>
<path d="M76.12 263.40V321.40" stroke="#ccdcf4" stroke-width="1.2" fill="none"/>
<path d="M74.22 263.40H78.03M74.22 321.40H78.03" stroke="#94b6ea" stroke-width="1" fill="none"/>
<path d="M115.38 263.30V298.30" stroke="#ccdcf4" stroke-width="1.2" fill="none"/>
<path d="M113.47 263.30H117.28M113.47 298.30H117.28" stroke="#94b6ea" stroke-width="1" fill="none"/>
<path d="M154.62 264.40V317.20" stroke="#ccdcf4" stroke-width="1.2" fill="none"/>
<path d="M152.72 264.40H156.53M152.72 317.20H156.53" stroke="#94b6ea" stroke-width="1" fill="none"/>
<path d="M193.88 281.40V295.40" stroke="#ccdcf4" stroke-width="1.2" fill="none"/>
<path d="M191.97 281.40H195.78M191.97 295.40H195.78" stroke="#94b6ea" stroke-width="1" fill="none"/>
<path d="M76.12 281.00L115.38 269.20L154.62 302.30L193.88 282.90" stroke="#404040" stroke-opacity="0.75" stroke-width="0.9" fill="none"/>
<path d="M76.12 270.20L115.38 281.00L154.62 280.80L193.88 300.00" stroke="#e94048" stroke-opacity="0.7" stroke-width="0.9" fill="none"/>
<path d="M76.12 292.40L115.38 280.80L154.62 290.80L193.88 288.40" stroke="#2a6cdc" stroke-opacity="0.8" stroke-width="0.9" fill="none"/>
<rect x="74.17" y="279.05" width="3.9" height="3.9" fill="#434343"/>
<rect x="113.42" y="267.25" width="3.9" height="3.9" fill="#434343"/>
<rect x="152.68" y="300.35" width="3.9" height="3.9" fill="#434343"/>
<rect x="191.93" y="280.95" width="3.9" height="3.9" fill="#434343"/>
<circle cx="76.12" cy="270.20" r="2.2" fill="#ef3a40"/>
<circle cx="115.38" cy="281.00" r="2.2" fill="#ef3a40"/>
<circle cx="154.62" cy="280.80" r="2.2" fill="#ef3a40"/>
<circle cx="193.88" cy="300.00" r="2.2" fill="#ef3a40"/>
<path d="M76.12 290.14L78.53 294.25L73.72 294.25Z" fill="#1c5ee0"/>
<path d="M115.38 278.55L117.78 282.65L112.97 282.65Z" fill="#1c5ee0"/>
<path d="M154.62 288.55L157.03 292.65L152.22 292.65Z" fill="#1c5ee0"/>
<path d="M193.88 286.14L196.28 290.25L191.47 290.25Z" fill="#1c5ee0"/>
<line x1="65.2" y1="213.30" x2="85.8" y2="213.30" stroke="#c0c0c0" stroke-width="1"/>
<rect x="73.55" y="210.95" width="3.9" height="3.9" fill="#434343"/>
<text x="87.8" y="216.10" font-size="9.1" fill="#222">N0</text>
<line x1="65.2" y1="223.90" x2="85.8" y2="223.90" stroke="#f4b0b6" stroke-width="1"/>
<circle cx="75.50" cy="223.50" r="2.2" fill="#ef3a40"/>
<text x="87.8" y="226.70" font-size="9.1" fill="#222">N150</text>
<line x1="65.2" y1="234.50" x2="85.8" y2="234.50" stroke="#6a9ae2" stroke-width="1"/>
<path d="M75.50 231.84L77.90 235.94L73.10 235.94Z" fill="#1c5ee0"/>
<text x="87.8" y="237.30" font-size="9.1" fill="#222">N300</text>
<text x="160.0" y="216.20" font-size="9" fill="#222">B</text>
<text x="179.8" y="216.20" font-size="9" fill="#222">NS</text>
<text x="160.0" y="227.05" font-size="9" fill="#222">N</text>
<text x="179.8" y="227.05" font-size="9" fill="#222">NS</text>
<text x="160.0" y="237.90" font-size="9" fill="#222">B×N</text>
<text x="179.8" y="237.90" font-size="9" fill="#222">NS</text>
<line x1="213.5" y1="219.50" x2="217.0" y2="219.50" stroke="#333" stroke-width="1"/>
<text x="209.5" y="221.50" font-size="8" text-anchor="end" fill="#222">42</text>
<line x1="213.5" y1="250.50" x2="217.0" y2="250.50" stroke="#333" stroke-width="1"/>
<text x="209.5" y="252.78" font-size="8" text-anchor="end" fill="#222">41</text>
<line x1="213.5" y1="281.50" x2="217.0" y2="281.50" stroke="#333" stroke-width="1"/>
<text x="209.5" y="284.06" font-size="8" text-anchor="end" fill="#222">40</text>
<line x1="213.5" y1="312.50" x2="217.0" y2="312.50" stroke="#333" stroke-width="1"/>
<text x="209.5" y="315.34" font-size="8" text-anchor="end" fill="#222">39</text>
<line x1="213.5" y1="344.50" x2="217.0" y2="344.50" stroke="#333" stroke-width="1"/>
<text x="209.5" y="346.62" font-size="8" text-anchor="end" fill="#222">38</text>
<line x1="213.5" y1="375.50" x2="217.0" y2="375.50" stroke="#333" stroke-width="1"/>
<text x="209.5" y="377.90" font-size="8" text-anchor="end" fill="#222">37</text>
<line x1="233.50" y1="390.5" x2="233.50" y2="387.5" stroke="#333" stroke-width="1"/>
<text x="233.12" y="399.6" font-size="7.6" text-anchor="middle" fill="#222">B0</text>
<line x1="272.50" y1="390.5" x2="272.50" y2="387.5" stroke="#333" stroke-width="1"/>
<text x="272.38" y="399.6" font-size="7.6" text-anchor="middle" fill="#222">B8</text>
<line x1="311.50" y1="390.5" x2="311.50" y2="387.5" stroke="#333" stroke-width="1"/>
<text x="311.62" y="399.6" font-size="7.6" text-anchor="middle" fill="#222">B16</text>
<line x1="350.50" y1="390.5" x2="350.50" y2="387.5" stroke="#333" stroke-width="1"/>
<text x="350.88" y="399.6" font-size="7.6" text-anchor="middle" fill="#222">B24</text>
<path d="M233.12 309.00V317.00" stroke="#d4d4d4" stroke-width="1.2" fill="none"/>
<path d="M231.22 309.00H235.03M231.22 317.00H235.03" stroke="#9c9c9c" stroke-width="1" fill="none"/>
<path d="M272.38 295.90V359.90" stroke="#d4d4d4" stroke-width="1.2" fill="none"/>
<path d="M270.48 295.90H274.27M270.48 359.90H274.27" stroke="#9c9c9c" stroke-width="1" fill="none"/>
<path d="M311.62 280.80V290.80" stroke="#d4d4d4" stroke-width="1.2" fill="none"/>
<path d="M309.73 280.80H313.52M309.73 290.80H313.52" stroke="#9c9c9c" stroke-width="1" fill="none"/>
<path d="M350.88 277.20V345.20" stroke="#d4d4d4" stroke-width="1.2" fill="none"/>
<path d="M348.98 277.20H352.77M348.98 345.20H352.77" stroke="#9c9c9c" stroke-width="1" fill="none"/>
<path d="M233.12 309.00V344.00" stroke="#f8d4d6" stroke-width="1.2" fill="none"/>
<path d="M231.22 309.00H235.03M231.22 344.00H235.03" stroke="#f0a0a6" stroke-width="1" fill="none"/>
<path d="M272.38 266.30V360.30" stroke="#f8d4d6" stroke-width="1.2" fill="none"/>
<path d="M270.48 266.30H274.27M270.48 360.30H274.27" stroke="#f0a0a6" stroke-width="1" fill="none"/>
<path d="M311.62 298.50V328.50" stroke="#f8d4d6" stroke-width="1.2" fill="none"/>
<path d="M309.73 298.50H313.52M309.73 328.50H313.52" stroke="#f0a0a6" stroke-width="1" fill="none"/>
<path d="M350.88 270.00V308.60" stroke="#f8d4d6" stroke-width="1.2" fill="none"/>
<path d="M348.98 270.00H352.77M348.98 308.60H352.77" stroke="#f0a0a6" stroke-width="1" fill="none"/>
<path d="M233.12 262.00V335.00" stroke="#ccdcf4" stroke-width="1.2" fill="none"/>
<path d="M231.22 262.00H235.03M231.22 335.00H235.03" stroke="#94b6ea" stroke-width="1" fill="none"/>
<path d="M272.38 291.30V335.30" stroke="#ccdcf4" stroke-width="1.2" fill="none"/>
<path d="M270.48 291.30H274.27M270.48 335.30H274.27" stroke="#94b6ea" stroke-width="1" fill="none"/>
<path d="M311.62 268.20V334.20" stroke="#ccdcf4" stroke-width="1.2" fill="none"/>
<path d="M309.73 268.20H313.52M309.73 334.20H313.52" stroke="#94b6ea" stroke-width="1" fill="none"/>
<path d="M350.88 295.50V311.50" stroke="#ccdcf4" stroke-width="1.2" fill="none"/>
<path d="M348.98 295.50H352.77M348.98 311.50H352.77" stroke="#94b6ea" stroke-width="1" fill="none"/>
<path d="M233.12 313.00L272.38 327.90L311.62 285.80L350.88 311.20" stroke="#404040" stroke-opacity="0.8" stroke-width="0.9" fill="none"/>
<path d="M233.12 326.50L272.38 313.30L311.62 313.50L350.88 289.30" stroke="#e94048" stroke-opacity="0.75" stroke-width="0.9" fill="none"/>
<path d="M233.12 298.50L272.38 313.30L311.62 301.20L350.88 303.50" stroke="#2a6cdc" stroke-opacity="0.8" stroke-width="0.9" fill="none"/>
<rect x="231.18" y="311.05" width="3.9" height="3.9" fill="#434343"/>
<rect x="270.43" y="325.95" width="3.9" height="3.9" fill="#434343"/>
<rect x="309.68" y="283.85" width="3.9" height="3.9" fill="#434343"/>
<rect x="348.93" y="309.25" width="3.9" height="3.9" fill="#434343"/>
<circle cx="233.12" cy="326.50" r="2.2" fill="#ef3a40"/>
<circle cx="272.38" cy="313.30" r="2.2" fill="#ef3a40"/>
<circle cx="311.62" cy="313.50" r="2.2" fill="#ef3a40"/>
<circle cx="350.88" cy="289.30" r="2.2" fill="#ef3a40"/>
<path d="M233.12 296.25L235.53 300.35L230.72 300.35Z" fill="#1c5ee0"/>
<path d="M272.38 311.05L274.77 315.15L269.98 315.15Z" fill="#1c5ee0"/>
<path d="M311.62 298.94L314.02 303.05L309.23 303.05Z" fill="#1c5ee0"/>
<path d="M350.88 301.25L353.27 305.35L348.48 305.35Z" fill="#1c5ee0"/>
<line x1="219.9" y1="213.30" x2="240.4" y2="213.30" stroke="#999999" stroke-width="1"/>
<rect x="228.20" y="210.95" width="3.9" height="3.9" fill="#434343"/>
<text x="242.2" y="216.10" font-size="9.1" fill="#222">N0</text>
<line x1="219.9" y1="223.90" x2="240.4" y2="223.90" stroke="#f08088" stroke-width="1"/>
<circle cx="230.15" cy="223.50" r="2.2" fill="#ef3a40"/>
<text x="242.2" y="226.70" font-size="9.1" fill="#222">N150</text>
<line x1="219.9" y1="234.50" x2="240.4" y2="234.50" stroke="#5a8ee2" stroke-width="1"/>
<path d="M230.15 231.84L232.55 235.94L227.75 235.94Z" fill="#1c5ee0"/>
<text x="242.2" y="237.30" font-size="9.1" fill="#222">N300</text>
<text x="317.8" y="215.80" font-size="9" fill="#222">B</text>
<text x="337.5" y="215.80" font-size="9" fill="#222">NS</text>
<text x="317.8" y="226.65" font-size="9" fill="#222">N</text>
<text x="337.5" y="226.65" font-size="9" fill="#222">NS</text>
<text x="317.8" y="237.50" font-size="9" fill="#222">B×N</text>
<text x="337.5" y="237.50" font-size="9" fill="#222">NS</text>
<line x1="370.5" y1="226.50" x2="374.0" y2="226.50" stroke="#333" stroke-width="1"/>
<text x="366.5" y="228.80" font-size="8" text-anchor="end" fill="#222">15.2</text>
<line x1="370.5" y1="263.50" x2="374.0" y2="263.50" stroke="#333" stroke-width="1"/>
<text x="366.5" y="266.30" font-size="8" text-anchor="end" fill="#222">14.8</text>
<line x1="370.5" y1="301.50" x2="374.0" y2="301.50" stroke="#333" stroke-width="1"/>
<text x="366.5" y="303.80" font-size="8" text-anchor="end" fill="#222">14.4</text>
<line x1="370.5" y1="338.50" x2="374.0" y2="338.50" stroke="#333" stroke-width="1"/>
<text x="366.5" y="341.30" font-size="8" text-anchor="end" fill="#222">14.0</text>
<line x1="370.5" y1="376.50" x2="374.0" y2="376.50" stroke="#333" stroke-width="1"/>
<text x="366.5" y="378.80" font-size="8" text-anchor="end" fill="#222">13.6</text>
<line x1="390.50" y1="390.5" x2="390.50" y2="387.5" stroke="#333" stroke-width="1"/>
<text x="390.12" y="399.6" font-size="7.6" text-anchor="middle" fill="#222">B0</text>
<line x1="429.50" y1="390.5" x2="429.50" y2="387.5" stroke="#333" stroke-width="1"/>
<text x="429.38" y="399.6" font-size="7.6" text-anchor="middle" fill="#222">B8</text>
<line x1="468.50" y1="390.5" x2="468.50" y2="387.5" stroke="#333" stroke-width="1"/>
<text x="468.62" y="399.6" font-size="7.6" text-anchor="middle" fill="#222">B16</text>
<line x1="507.50" y1="390.5" x2="507.50" y2="387.5" stroke="#333" stroke-width="1"/>
<text x="507.88" y="399.6" font-size="7.6" text-anchor="middle" fill="#222">B24</text>
<path d="M390.12 331.10V345.10" stroke="#d4d4d4" stroke-width="1.2" fill="none"/>
<path d="M388.23 331.10H392.02M388.23 345.10H392.02" stroke="#9c9c9c" stroke-width="1" fill="none"/>
<path d="M429.38 313.50V317.50" stroke="#d4d4d4" stroke-width="1.2" fill="none"/>
<path d="M427.48 313.50H431.27M427.48 317.50H431.27" stroke="#9c9c9c" stroke-width="1" fill="none"/>
<path d="M468.62 237.50V303.50" stroke="#d4d4d4" stroke-width="1.2" fill="none"/>
<path d="M466.73 237.50H470.52M466.73 303.50H470.52" stroke="#9c9c9c" stroke-width="1" fill="none"/>
<path d="M507.88 311.70V350.10" stroke="#d4d4d4" stroke-width="1.2" fill="none"/>
<path d="M505.98 311.70H509.77M505.98 350.10H509.77" stroke="#9c9c9c" stroke-width="1" fill="none"/>
<path d="M390.12 312.00V320.00" stroke="#f8d4d6" stroke-width="1.2" fill="none"/>
<path d="M388.23 312.00H392.02M388.23 320.00H392.02" stroke="#f0a0a6" stroke-width="1" fill="none"/>
<path d="M429.38 242.00V282.00" stroke="#f8d4d6" stroke-width="1.2" fill="none"/>
<path d="M427.48 242.00H431.27M427.48 282.00H431.27" stroke="#f0a0a6" stroke-width="1" fill="none"/>
<path d="M468.62 249.50V291.50" stroke="#f8d4d6" stroke-width="1.2" fill="none"/>
<path d="M466.73 249.50H470.52M466.73 291.50H470.52" stroke="#f0a0a6" stroke-width="1" fill="none"/>
<path d="M507.88 266.50V308.50" stroke="#f8d4d6" stroke-width="1.2" fill="none"/>
<path d="M505.98 266.50H509.77M505.98 308.50H509.77" stroke="#f0a0a6" stroke-width="1" fill="none"/>
<path d="M390.12 277.00V320.00" stroke="#ccdcf4" stroke-width="1.2" fill="none"/>
<path d="M388.23 277.00H392.02M388.23 320.00H392.02" stroke="#94b6ea" stroke-width="1" fill="none"/>
<path d="M429.38 244.20V275.80" stroke="#ccdcf4" stroke-width="1.2" fill="none"/>
<path d="M427.48 244.20H431.27M427.48 275.80H431.27" stroke="#94b6ea" stroke-width="1" fill="none"/>
<path d="M468.62 246.20V280.20" stroke="#ccdcf4" stroke-width="1.2" fill="none"/>
<path d="M466.73 246.20H470.52M466.73 280.20H470.52" stroke="#94b6ea" stroke-width="1" fill="none"/>
<path d="M507.88 243.40V303.40" stroke="#ccdcf4" stroke-width="1.2" fill="none"/>
<path d="M505.98 243.40H509.77M505.98 303.40H509.77" stroke="#94b6ea" stroke-width="1" fill="none"/>
<path d="M390.12 338.10L429.38 315.50L468.62 270.50L507.88 330.90" stroke="#404040" stroke-opacity="0.45" stroke-width="0.9" fill="none"/>
<path d="M390.12 316.00L429.38 262.00L468.62 270.50L507.88 287.50" stroke="#e94048" stroke-opacity="0.55" stroke-width="0.9" fill="none"/>
<path d="M390.12 298.50L429.38 260.00L468.62 263.20L507.88 273.40" stroke="#2a6cdc" stroke-opacity="0.6" stroke-width="0.9" fill="none"/>
<rect x="388.18" y="336.15" width="3.9" height="3.9" fill="#434343"/>
<rect x="427.43" y="313.55" width="3.9" height="3.9" fill="#434343"/>
<rect x="466.68" y="268.55" width="3.9" height="3.9" fill="#434343"/>
<rect x="505.93" y="328.95" width="3.9" height="3.9" fill="#434343"/>
<circle cx="390.12" cy="316.00" r="2.2" fill="#ef3a40"/>
<circle cx="429.38" cy="262.00" r="2.2" fill="#ef3a40"/>
<circle cx="468.62" cy="270.50" r="2.2" fill="#ef3a40"/>
<circle cx="507.88" cy="287.50" r="2.2" fill="#ef3a40"/>
<path d="M390.12 296.25L392.52 300.35L387.73 300.35Z" fill="#1c5ee0"/>
<path d="M429.38 257.75L431.77 261.85L426.98 261.85Z" fill="#1c5ee0"/>
<path d="M468.62 260.94L471.02 265.05L466.23 265.05Z" fill="#1c5ee0"/>
<path d="M507.88 271.14L510.27 275.25L505.48 275.25Z" fill="#1c5ee0"/>
<line x1="381.0" y1="213.30" x2="401.5" y2="213.30" stroke="#c4c4c4" stroke-width="1"/>
<rect x="389.30" y="210.95" width="3.9" height="3.9" fill="#434343"/>
<text x="403.5" y="216.10" font-size="9.1" fill="#222">N0</text>
<line x1="381.0" y1="223.90" x2="401.5" y2="223.90" stroke="#f4aab0" stroke-width="1"/>
<circle cx="391.25" cy="223.50" r="2.2" fill="#ef3a40"/>
<text x="403.5" y="226.70" font-size="9.1" fill="#222">N150</text>
<line x1="381.0" y1="234.50" x2="401.5" y2="234.50" stroke="#8ab0ea" stroke-width="1"/>
<path d="M391.25 231.84L393.65 235.94L388.85 235.94Z" fill="#1c5ee0"/>
<text x="403.5" y="237.30" font-size="9.1" fill="#222">N300</text>
<text x="477.0" y="212.80" font-size="9" fill="#222">B</text>
<circle cx="498.90" cy="208.30" r="1.15" fill="#444"/><path d="M498.90 208.30l0.00 1.75M498.90 208.30l-1.52 0.88M498.90 208.30l-1.52 -0.87M498.90 208.30l-0.00 -1.75M498.90 208.30l1.52 -0.88M498.90 208.30l1.52 0.88" stroke="#555" stroke-width="0.9" stroke-linecap="round"/>
<circle cx="502.80" cy="208.30" r="1.15" fill="#444"/><path d="M502.80 208.30l0.00 1.75M502.80 208.30l-1.52 0.88M502.80 208.30l-1.52 -0.87M502.80 208.30l-0.00 -1.75M502.80 208.30l1.52 -0.88M502.80 208.30l1.52 0.88" stroke="#555" stroke-width="0.9" stroke-linecap="round"/>
<text x="477.0" y="223.65" font-size="9" fill="#222">N</text>
<circle cx="498.90" cy="219.15" r="1.15" fill="#444"/><path d="M498.90 219.15l0.00 1.75M498.90 219.15l-1.52 0.88M498.90 219.15l-1.52 -0.87M498.90 219.15l-0.00 -1.75M498.90 219.15l1.52 -0.88M498.90 219.15l1.52 0.88" stroke="#555" stroke-width="0.9" stroke-linecap="round"/>
<circle cx="502.80" cy="219.15" r="1.15" fill="#444"/><path d="M502.80 219.15l0.00 1.75M502.80 219.15l-1.52 0.88M502.80 219.15l-1.52 -0.87M502.80 219.15l-0.00 -1.75M502.80 219.15l1.52 -0.88M502.80 219.15l1.52 0.88" stroke="#555" stroke-width="0.9" stroke-linecap="round"/>
<text x="477.0" y="234.50" font-size="9" fill="#222">B×N</text>
<text x="497.0" y="234.50" font-size="9" fill="#222">NS</text>
<line x1="527.5" y1="217.50" x2="531.0" y2="217.50" stroke="#333" stroke-width="1"/>
<text x="523.5" y="219.80" font-size="8" text-anchor="end" fill="#222">52</text>
<line x1="527.5" y1="249.50" x2="531.0" y2="249.50" stroke="#333" stroke-width="1"/>
<text x="523.5" y="251.56" font-size="8" text-anchor="end" fill="#222">50</text>
<line x1="527.5" y1="280.50" x2="531.0" y2="280.50" stroke="#333" stroke-width="1"/>
<text x="523.5" y="283.32" font-size="8" text-anchor="end" fill="#222">48</text>
<line x1="527.5" y1="312.50" x2="531.0" y2="312.50" stroke="#333" stroke-width="1"/>
<text x="523.5" y="315.08" font-size="8" text-anchor="end" fill="#222">46</text>
<line x1="527.5" y1="344.50" x2="531.0" y2="344.50" stroke="#333" stroke-width="1"/>
<text x="523.5" y="346.84" font-size="8" text-anchor="end" fill="#222">44</text>
<line x1="527.5" y1="376.50" x2="531.0" y2="376.50" stroke="#333" stroke-width="1"/>
<text x="523.5" y="378.60" font-size="8" text-anchor="end" fill="#222">42</text>
<line x1="547.50" y1="390.5" x2="547.50" y2="387.5" stroke="#333" stroke-width="1"/>
<text x="547.01" y="399.6" font-size="7.6" text-anchor="middle" fill="#222">B0</text>
<line x1="586.50" y1="390.5" x2="586.50" y2="387.5" stroke="#333" stroke-width="1"/>
<text x="586.04" y="399.6" font-size="7.6" text-anchor="middle" fill="#222">B8</text>
<line x1="625.50" y1="390.5" x2="625.50" y2="387.5" stroke="#333" stroke-width="1"/>
<text x="625.06" y="399.6" font-size="7.6" text-anchor="middle" fill="#222">B16</text>
<line x1="664.50" y1="390.5" x2="664.50" y2="387.5" stroke="#333" stroke-width="1"/>
<text x="664.09" y="399.6" font-size="7.6" text-anchor="middle" fill="#222">B24</text>
<path d="M547.01 316.40V331.40" stroke="#d4d4d4" stroke-width="1.2" fill="none"/>
<path d="M545.11 316.40H548.91M545.11 331.40H548.91" stroke="#9c9c9c" stroke-width="1" fill="none"/>
<path d="M586.04 292.40V319.40" stroke="#d4d4d4" stroke-width="1.2" fill="none"/>
<path d="M584.14 292.40H587.94M584.14 319.40H587.94" stroke="#9c9c9c" stroke-width="1" fill="none"/>
<path d="M625.06 276.10V319.30" stroke="#d4d4d4" stroke-width="1.2" fill="none"/>
<path d="M623.16 276.10H626.96M623.16 319.30H626.96" stroke="#9c9c9c" stroke-width="1" fill="none"/>
<path d="M664.09 297.10V343.90" stroke="#d4d4d4" stroke-width="1.2" fill="none"/>
<path d="M662.19 297.10H665.99M662.19 343.90H665.99" stroke="#9c9c9c" stroke-width="1" fill="none"/>
<path d="M547.01 299.40V312.60" stroke="#f8d4d6" stroke-width="1.2" fill="none"/>
<path d="M545.11 299.40H548.91M545.11 312.60H548.91" stroke="#f0a0a6" stroke-width="1" fill="none"/>
<path d="M586.04 252.60V311.20" stroke="#f8d4d6" stroke-width="1.2" fill="none"/>
<path d="M584.14 252.60H587.94M584.14 311.20H587.94" stroke="#f0a0a6" stroke-width="1" fill="none"/>
<path d="M625.06 269.50V303.10" stroke="#f8d4d6" stroke-width="1.2" fill="none"/>
<path d="M623.16 269.50H626.96M623.16 303.10H626.96" stroke="#f0a0a6" stroke-width="1" fill="none"/>
<path d="M664.09 296.30V314.30" stroke="#f8d4d6" stroke-width="1.2" fill="none"/>
<path d="M662.19 296.30H665.99M662.19 314.30H665.99" stroke="#f0a0a6" stroke-width="1" fill="none"/>
<path d="M547.01 298.90V316.30" stroke="#ccdcf4" stroke-width="1.2" fill="none"/>
<path d="M545.11 298.90H548.91M545.11 316.30H548.91" stroke="#94b6ea" stroke-width="1" fill="none"/>
<path d="M586.04 275.50V286.30" stroke="#ccdcf4" stroke-width="1.2" fill="none"/>
<path d="M584.14 275.50H587.94M584.14 286.30H587.94" stroke="#94b6ea" stroke-width="1" fill="none"/>
<path d="M625.06 276.50V298.10" stroke="#ccdcf4" stroke-width="1.2" fill="none"/>
<path d="M623.16 276.50H626.96M623.16 298.10H626.96" stroke="#94b6ea" stroke-width="1" fill="none"/>
<path d="M664.09 275.30V308.70" stroke="#ccdcf4" stroke-width="1.2" fill="none"/>
<path d="M662.19 275.30H665.99M662.19 308.70H665.99" stroke="#94b6ea" stroke-width="1" fill="none"/>
<path d="M547.01 323.90L586.04 305.90L625.06 297.70L664.09 320.50" stroke="#404040" stroke-opacity="0.8" stroke-width="0.9" fill="none"/>
<path d="M547.01 306.00L586.04 281.90L625.06 286.30L664.09 305.30" stroke="#e94048" stroke-opacity="0.8" stroke-width="0.9" fill="none"/>
<path d="M547.01 307.60L586.04 280.90L625.06 287.30L664.09 292.00" stroke="#2a6cdc" stroke-opacity="0.85" stroke-width="0.9" fill="none"/>
<rect x="545.06" y="321.95" width="3.9" height="3.9" fill="#434343"/>
<rect x="584.09" y="303.95" width="3.9" height="3.9" fill="#434343"/>
<rect x="623.11" y="295.75" width="3.9" height="3.9" fill="#434343"/>
<rect x="662.14" y="318.55" width="3.9" height="3.9" fill="#434343"/>
<circle cx="547.01" cy="306.00" r="2.2" fill="#ef3a40"/>
<circle cx="586.04" cy="281.90" r="2.2" fill="#ef3a40"/>
<circle cx="625.06" cy="286.30" r="2.2" fill="#ef3a40"/>
<circle cx="664.09" cy="305.30" r="2.2" fill="#ef3a40"/>
<path d="M547.01 305.35L549.41 309.45L544.61 309.45Z" fill="#1c5ee0"/>
<path d="M586.04 278.64L588.44 282.75L583.64 282.75Z" fill="#1c5ee0"/>
<path d="M625.06 285.05L627.46 289.15L622.66 289.15Z" fill="#1c5ee0"/>
<path d="M664.09 289.75L666.49 293.85L661.69 293.85Z" fill="#1c5ee0"/>
<line x1="538.4" y1="212.30" x2="558.9" y2="212.30" stroke="#a8a8a8" stroke-width="1"/>
<rect x="546.70" y="209.95" width="3.9" height="3.9" fill="#434343"/>
<text x="560.8" y="215.10" font-size="9.1" fill="#222">N0</text>
<line x1="538.4" y1="222.90" x2="558.9" y2="222.90" stroke="#f07078" stroke-width="1"/>
<circle cx="548.65" cy="222.50" r="2.2" fill="#ef3a40"/>
<text x="560.8" y="225.70" font-size="9.1" fill="#222">N150</text>
<line x1="538.4" y1="233.50" x2="558.9" y2="233.50" stroke="#5a8ee2" stroke-width="1"/>
<path d="M548.65 230.84L551.05 234.94L546.25 234.94Z" fill="#1c5ee0"/>
<text x="560.8" y="236.30" font-size="9.1" fill="#222">N300</text>
<text x="638.5" y="213.20" font-size="9" fill="#222">B</text>
<circle cx="660.30" cy="208.70" r="1.15" fill="#444"/><path d="M660.30 208.70l0.00 1.75M660.30 208.70l-1.52 0.88M660.30 208.70l-1.52 -0.87M660.30 208.70l-0.00 -1.75M660.30 208.70l1.52 -0.88M660.30 208.70l1.52 0.88" stroke="#555" stroke-width="0.9" stroke-linecap="round"/>
<text x="638.5" y="224.05" font-size="9" fill="#222">N</text>
<circle cx="660.30" cy="219.55" r="1.15" fill="#444"/><path d="M660.30 219.55l0.00 1.75M660.30 219.55l-1.52 0.88M660.30 219.55l-1.52 -0.87M660.30 219.55l-0.00 -1.75M660.30 219.55l1.52 -0.88M660.30 219.55l1.52 0.88" stroke="#555" stroke-width="0.9" stroke-linecap="round"/>
<text x="638.5" y="234.90" font-size="9" fill="#222">B×N</text>
<text x="658.4" y="234.90" font-size="9" fill="#222">NS</text>
<line x1="56.5" y1="15.5" x2="56.5" y2="391.5" stroke="#4d4d4d" stroke-width="1"/>
<line x1="213.5" y1="15.5" x2="213.5" y2="391.5" stroke="#4d4d4d" stroke-width="1"/>
<line x1="370.2" y1="15.5" x2="370.2" y2="391.5" stroke="#555" stroke-width="1"/>
<line x1="527.2" y1="15.5" x2="527.2" y2="391.5" stroke="#555" stroke-width="1"/>
<line x1="683.9" y1="15.5" x2="683.9" y2="391.5" stroke="#888" stroke-width="1.4"/>
<line x1="56" y1="16.0" x2="684.6" y2="16.0" stroke="#111" stroke-width="1"/>
<line x1="56" y1="203.5" x2="684.6" y2="203.5" stroke="#4d4d4d" stroke-width="1"/>
<line x1="56" y1="391.0" x2="684.6" y2="391.0" stroke="#151515" stroke-width="1"/>
</svg>
</body></html>
